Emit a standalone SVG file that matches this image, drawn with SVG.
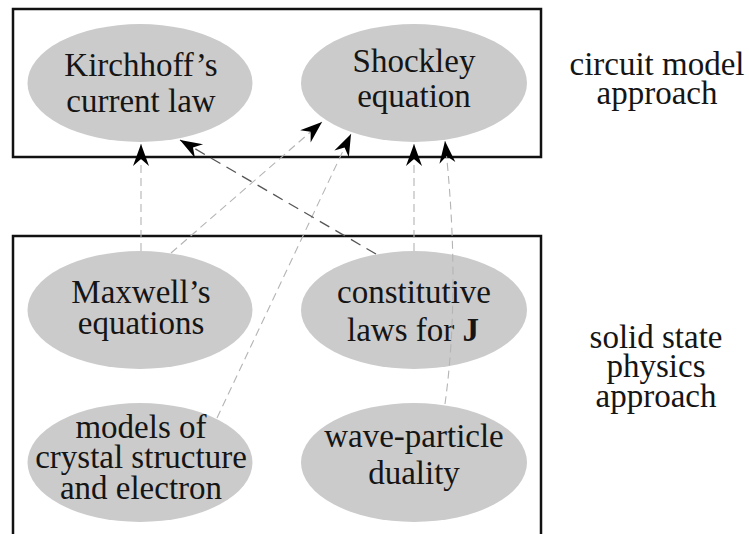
<svg xmlns="http://www.w3.org/2000/svg" width="749" height="534" viewBox="0 0 749 534">
  <style>
    .box { fill: none; stroke: #111; stroke-width: 2.5; }
    .node { fill: #cbcbcb; stroke: none; }
    .t { font-family: "Liberation Serif", "Times New Roman", serif; font-size: 33px; fill: #151515; text-anchor: middle; }
    .lite { fill: none; stroke: #b4b4b4; stroke-width: 1.1; stroke-dasharray: 8 5; }
    .dark { fill: none; stroke: #555; stroke-width: 1.3; stroke-dasharray: 11 7; }
  </style>
  <defs>
    <marker id="ah" markerUnits="userSpaceOnUse" viewBox="-23 -9 24 18" refX="0" refY="0" markerWidth="24" markerHeight="18" orient="auto">
      <path d="M0,0 L-22,-8 L-15,0 L-22,8 Z" fill="#000"/>
    </marker>
  </defs>

  <g id="circuit-model-group">
    <rect class="box" x="13" y="9" width="528" height="148"/>
    <text class="t" x="657" y="75">circuit model</text>
    <text class="t" x="657" y="104">approach</text>
  </g>
  <g id="solid-state-group">
    <rect class="box" x="13" y="236" width="528" height="320"/>
    <text class="t" x="656" y="348">solid state</text>
    <text class="t" x="656" y="377">physics</text>
    <text class="t" x="656" y="407">approach</text>
  </g>

  <g id="kirchhoff">
    <ellipse class="node" cx="140" cy="83" rx="112.5" ry="59"/>
    <text class="t" x="141" y="76">Kirchhoff’s</text>
    <text class="t" x="141" y="112">current law</text>
  </g>
  <g id="shockley">
    <ellipse class="node" cx="414" cy="83" rx="113" ry="59"/>
    <text class="t" x="414" y="72">Shockley</text>
    <text class="t" x="414" y="107">equation</text>
  </g>
  <g id="maxwell">
    <ellipse class="node" cx="140" cy="310" rx="112.5" ry="59"/>
    <text class="t" x="141" y="303">Maxwell’s</text>
    <text class="t" x="141" y="334">equations</text>
  </g>
  <g id="constitutive">
    <ellipse class="node" cx="414" cy="310" rx="113" ry="59"/>
    <text class="t" x="414" y="303">constitutive</text>
    <text class="t" x="413" y="341">laws for <tspan font-weight="bold">J</tspan></text>
  </g>
  <g id="models">
    <ellipse class="node" cx="140" cy="462.5" rx="112.5" ry="59.5"/>
    <text class="t" x="141" y="438">models of</text>
    <text class="t" x="141" y="468">crystal structure</text>
    <text class="t" x="141" y="499">and electron</text>
  </g>
  <g id="wave-particle">
    <ellipse class="node" cx="414" cy="462.5" rx="113" ry="59.5"/>
    <text class="t" x="414" y="447">wave-particle</text>
    <text class="t" x="414" y="484">duality</text>
  </g>

  <g id="connectors">
    <path class="lite" d="M141,251 L141,144" marker-end="url(#ah)"/>
    <path class="lite" d="M171,253 L322,122" marker-end="url(#ah)"/>
    <path class="lite" d="M217,418 L351,134" marker-end="url(#ah)"/>
    <path class="dark" d="M376,254 L180,140" marker-end="url(#ah)"/>
    <path class="lite" d="M414,251 L414,144" marker-end="url(#ah)"/>
    <path class="lite" d="M445,404 Q461,287 445,141" marker-end="url(#ah)"/>
  </g>
</svg>
